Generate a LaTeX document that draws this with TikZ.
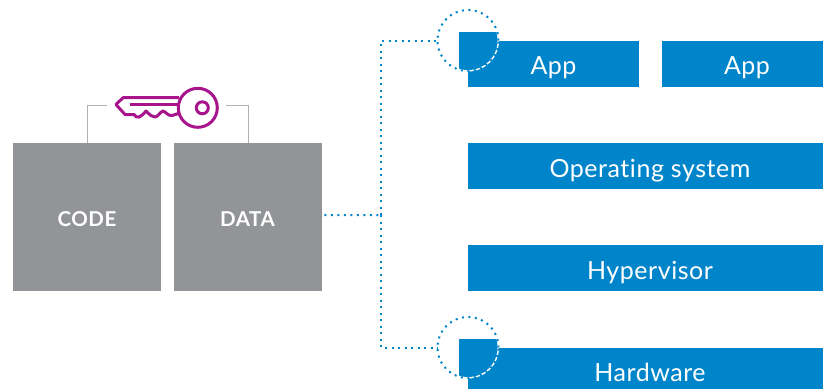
\documentclass[tikz,border=0pt]{standalone}
\usepackage{fontspec}
\setmainfont{Lato}
\newfontfamily\labelfont[LetterSpace=2.2,Ligatures=NoCommon]{Lato}
\newfontfamily\boxfont[LetterSpace=2.5]{Lato Bold}
\definecolor{vblue}{HTML}{0085CA}
\definecolor{vgrey}{HTML}{929497}
\definecolor{vline}{HTML}{B5B1AD}
\definecolor{vkey}{HTML}{A8148C}
\tikzset{
  x=1pt,y=-1pt,
  layerbox/.style={fill=vblue,draw=none,inner sep=0pt,anchor=north west},
  layertext/.style={text=white,font=\labelfont\fontsize{25}{28}\selectfont,anchor=base,inner sep=0pt},
  greybox/.style={fill=vgrey,draw=none,inner sep=0pt,minimum width=148pt,minimum height=148pt,anchor=north west},
  boxtext/.style={text=white,font=\boxfont\fontsize{20.5}{22}\selectfont,anchor=base,inner sep=0pt},
  greyline/.style={draw=vline,line width=1pt},
  bluedots/.style={draw=vblue,line width=2pt,dash pattern=on 2pt off 4.5pt},
  keyline/.style={draw=vkey,line width=3pt,line join=round},
}
\begin{document}
\begin{tikzpicture}
\useasboundingbox (0,0) rectangle (823,389);
\node[greybox] (code) at (13,143) {};
\node[greybox] (data) at (174,143) {};
\node[boxtext] at (87,226) {CODE};
\node[boxtext] at (247.5,226) {DATA};
\node[layerbox,minimum width=171pt,minimum height=46pt] (app1) at (468,41) {};
\node[layerbox,minimum width=161pt,minimum height=46pt] (app2) at (662,41) {};
\node[layerbox,minimum width=355pt,minimum height=46pt] (os) at (468,143) {};
\node[layerbox,minimum width=355pt,minimum height=46pt] (hyp) at (468,245) {};
\node[layerbox,minimum width=355pt,minimum height=41pt] (hw) at (468,348) {};
% labels
\node[layertext] at (553.5,74) {App};
\node[layertext] at (747,74) {App};
\node[layertext] at (650,177) {Operating system};
\node[layertext] at (650,279) {Hypervisor};
\node[layertext] at (650,381) {Hardware};
% badges
\foreach \n/\cy in {a/40.5,b/347.5}{
  \fill[white] (468,\cy) circle[radius=31pt];
  \begin{scope}
    \clip (468,\cy) circle[radius=29.5pt];
    \fill[vblue] (459,\cy-8.5) rectangle (500,\cy+32);
  \end{scope}
  \coordinate (c\n) at (468,\cy);
  \draw[bluedots] (c\n) circle[radius=30.5pt];
}
\coordinate (ja) at (437.5,40.5);
\coordinate (jb) at (437.5,347.5);
\coordinate (split) at (381,215);
\draw[bluedots] (data.east)++(2,-2) -- (split);
\draw[bluedots] (split) |- (ja);
\draw[bluedots] (split) |- (jb);
% key
\coordinate (kl) at (107,105);
\coordinate (kr) at (226,105);
\draw[greyline] (code.north west)++(74,0) |- (kl);
\draw[greyline] (data.north west)++(74,0) |- (kr);
\draw[keyline] (197.8,107.8) circle[radius=19.5pt];
\draw[keyline] (202.3,107.8) circle[radius=6pt];
\draw[keyline] (179,97.7) -- (123,97.7) -- (116,104.5) -- (125,114.5) -- (134,114.5) .. controls (137,119) and (140,118) .. (146,111) .. controls (150,115) and (152,117) .. (155,117) .. controls (158,117) and (160,112) .. (163,111) .. controls (166,112) and (168,116) .. (172,115.5) -- (178.5,113.5);
\draw[keyline] (130,104.3) -- (178.5,104.3);
\end{tikzpicture}
\end{document}
